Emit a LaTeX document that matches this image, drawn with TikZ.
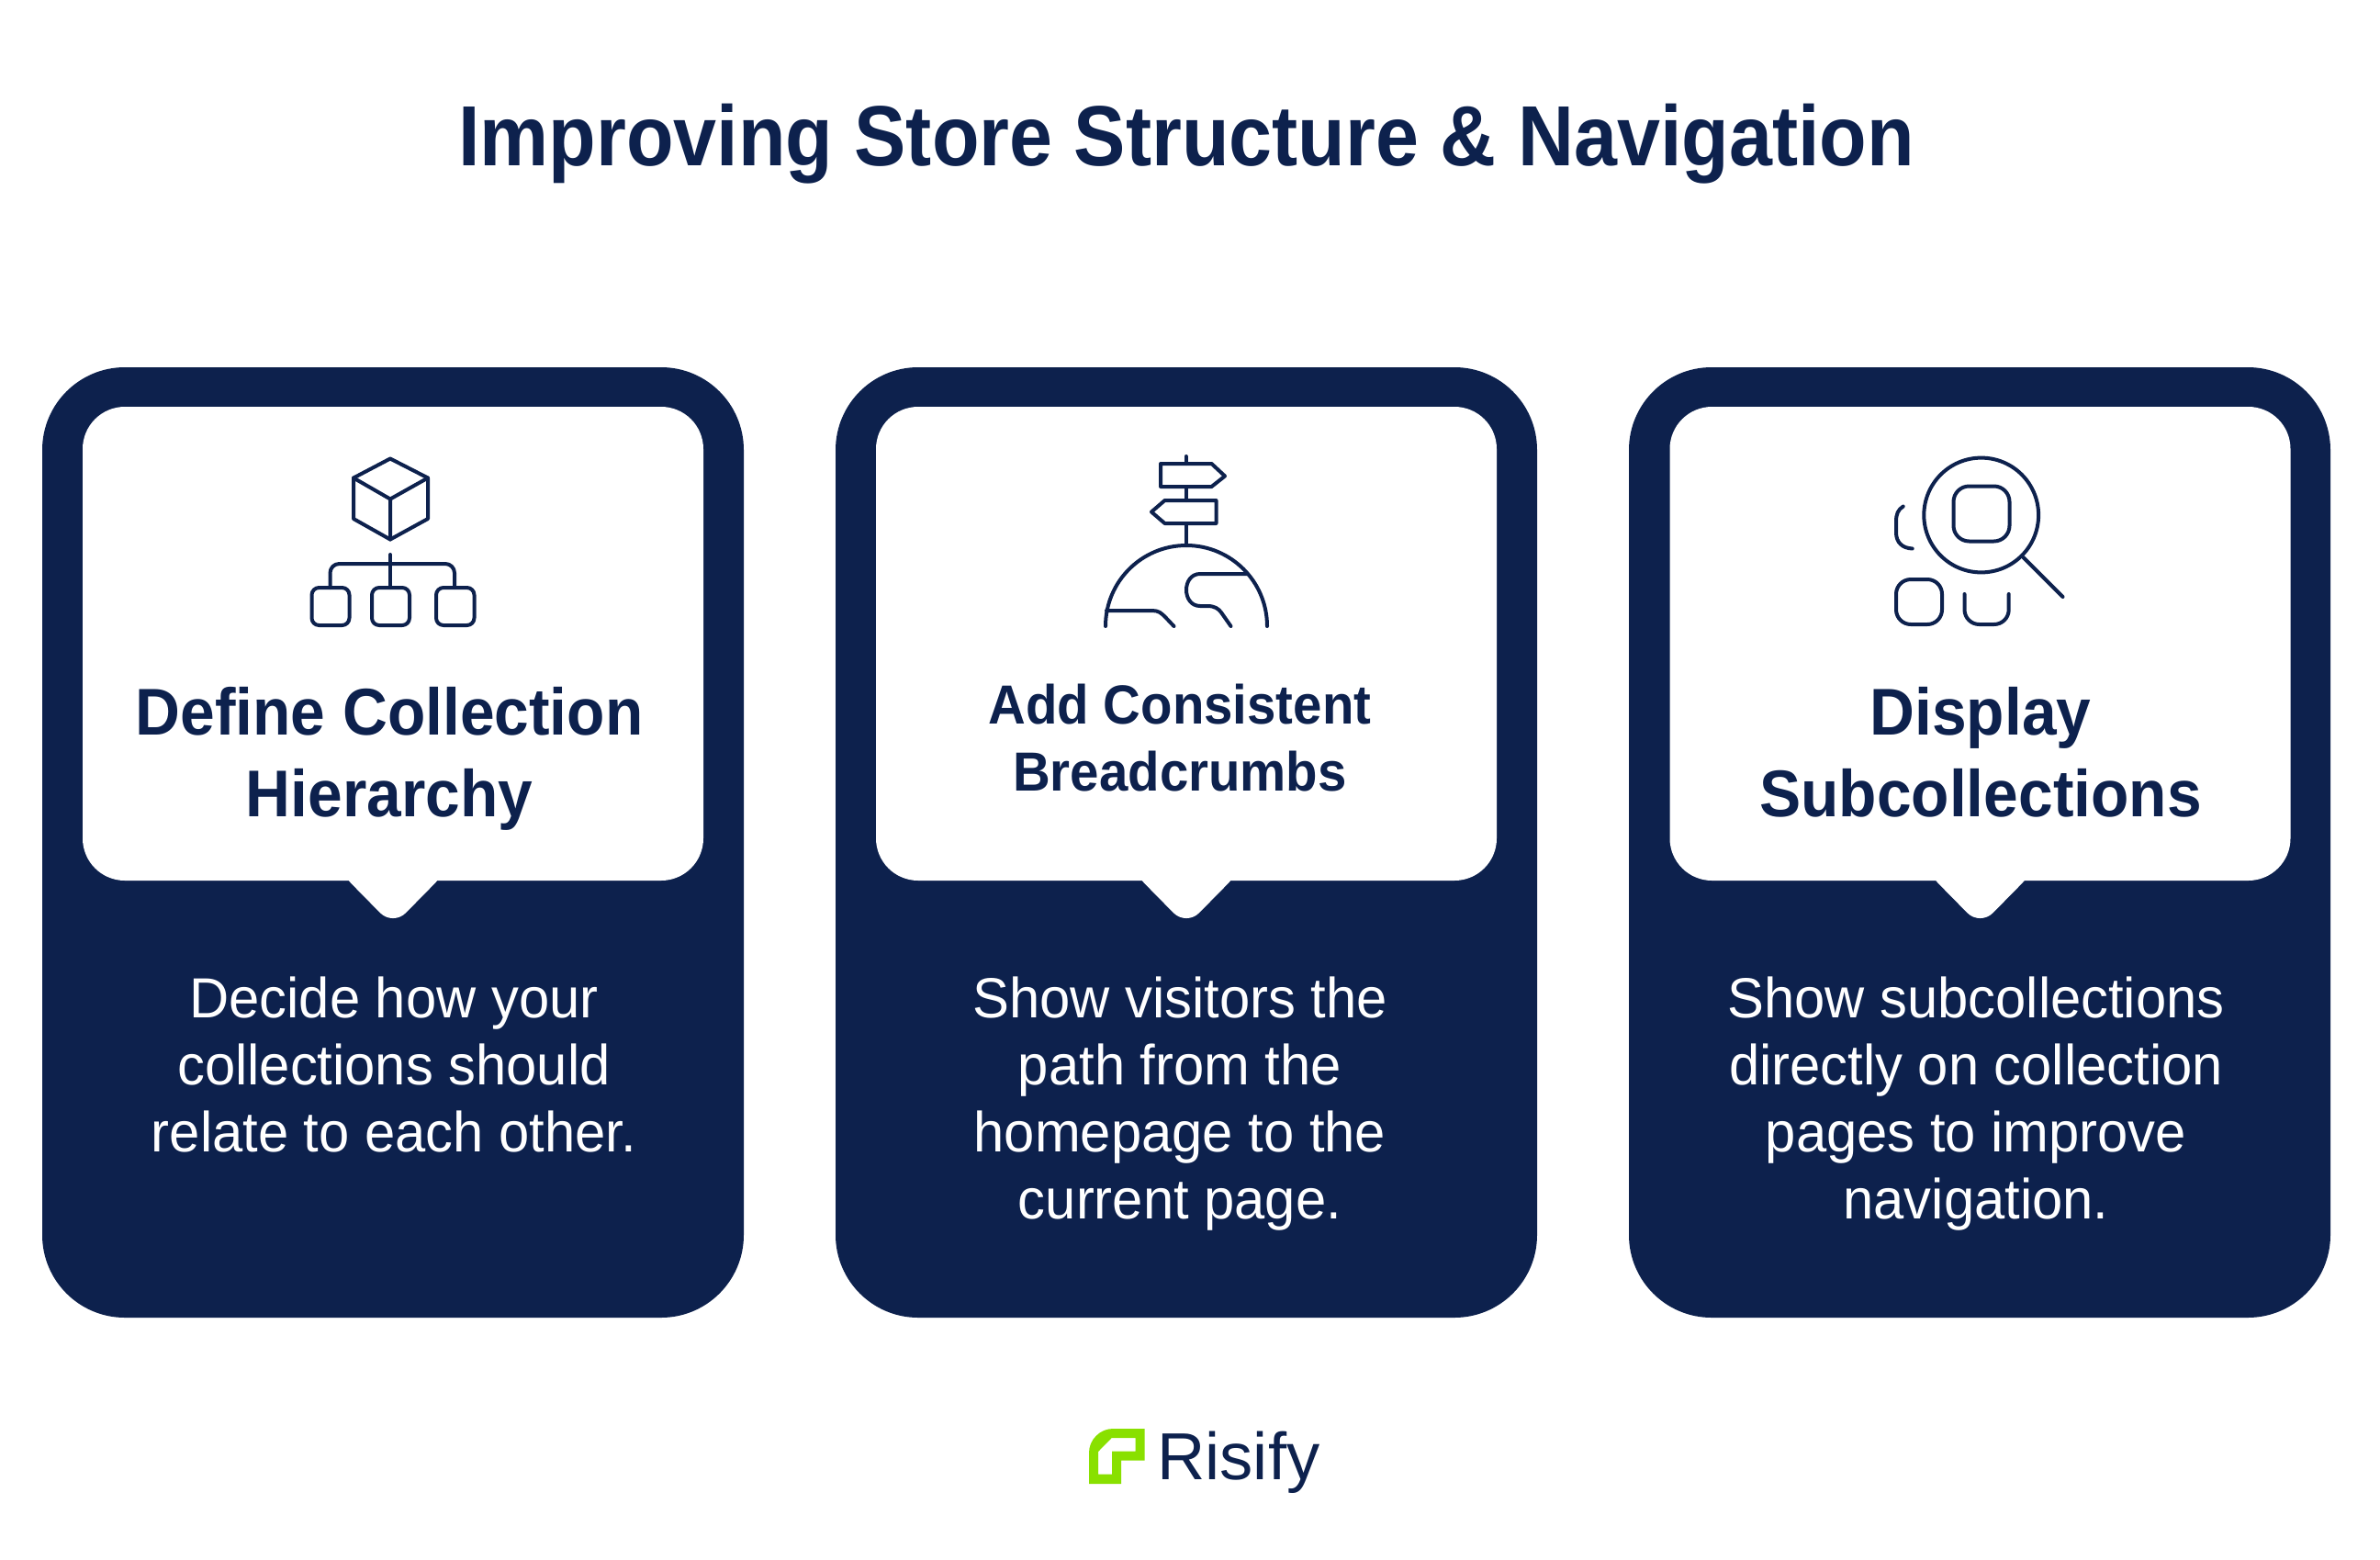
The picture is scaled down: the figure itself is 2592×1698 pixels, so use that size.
\documentclass[tikz,border=0pt]{standalone}
\usepackage{fontspec}
\setmainfont{Liberation Sans}
\newfontfamily\headfont[FakeStretch=0.94]{Liberation Sans}
\newfontfamily\titlefont[FakeStretch=0.908]{Liberation Sans}
\newfontfamily\copyfont[FakeStretch=0.97]{Liberation Sans}
\usepackage{xcolor}
\usetikzlibrary{shapes,arrows,positioning,calc}
\definecolor{risifynavy}{RGB}{13,33,77}
\definecolor{risifygreen}{RGB}{137,224,0}
\tikzset{
  cardbox/.style={rectangle,fill=risifynavy,rounded corners=45pt,minimum width=382pt,minimum height=517.5pt,inner sep=0pt},
  panelbox/.style={rectangle,fill=white,rounded corners=23pt,minimum width=338pt,minimum height=258pt,inner sep=0pt},
  notchtip/.style={fill=white,rounded corners=10pt},
  headtext/.style={text=risifynavy,align=center,inner sep=0pt,font=\headfont\bfseries\fontsize{36}{44.5}\selectfont},
  smallhead/.style={text=risifynavy,align=center,inner sep=0pt,font=\headfont\bfseries\fontsize{30}{36.5}\selectfont},
  bodytext/.style={text=white,align=center,inner sep=0pt,font=\copyfont\fontsize{30.8}{36.5}\selectfont},
  iconline/.style={draw=risifynavy,line width=2pt,line cap=round,line join=round}
}
\begin{document}
\begin{tikzpicture}[x=0.5pt,y=-0.5pt]
        \useasboundingbox (0,0) rectangle (2592,1698);

        % Title
        \node[text=risifynavy,inner sep=0pt,font=\titlefont\bfseries\fontsize{46.5}{56}\selectfont] (title) at (1292,156.5) {Improving Store Structure \& Navigation};

        % Cards
        \node[cardbox] (card1) at (428,917.5) {};
        \node[cardbox] (card2) at (1292,917.5) {};
        \node[cardbox] (card3) at (2156,917.5) {};

        % White panels
        \node[panelbox] (panel1) at (428,701) {};
        \node[panelbox] (panel2) at (1292,701) {};
        \node[panelbox] (panel3) at (2156.5,701) {};

        % Panel tips
        \fill[notchtip] (panel1.south) ++(-60,-12) -- ++(60,61) -- ++(60,-61) -- cycle;
        \fill[notchtip] (panel2.south) ++(-60,-12) -- ++(60,61) -- ++(60,-61) -- cycle;
        \fill[notchtip] (panel3.south) ++(-60,-12) -- ++(60,61) -- ++(60,-61) -- cycle;

        % Card headings
        \node[headtext] (head1) at (424,826) {Define Collection\\Hierarchy};
        \node[smallhead] (head2) at (1285,804) {Add Consistent\\Breadcrumbs};
        \node[headtext] (head3) at (2157,819.5) {Display\\Subcollections};

        % Card texts
        \node[bodytext] (body1) at (429,1159) {Decide how your\\collections should\\relate to each other.};
        \node[bodytext] (body2) at (1285,1202) {Show visitors the\\path from the\\homepage to the\\current page.};
        \node[bodytext] (body3) at (2152,1202) {Show subcollections\\directly on collection\\pages to improve\\navigation.};

        % Icon: cube over tree
        \draw[iconline] (425,499.5) -- (466,520.5) -- (466,565) -- (425,587.5) -- (385,565) -- (385,520.5) -- cycle;
        \draw[iconline] (385,520.5) -- (425,543.5) -- (466,520.5) (425,543.5) -- (425,587.5);
        \draw[iconline] (425,604) -- (425,640);
        \draw[iconline,rounded corners=5pt] (359.5,640) -- (359.5,614) -- (495,614) -- (495,640);
        \draw[iconline,rounded corners=4pt] (339.5,640) rectangle (380.5,681);
        \draw[iconline,rounded corners=4pt] (405,640) rectangle (446,681);
        \draw[iconline,rounded corners=4pt] (475,640) rectangle (516.5,681);

        % Icon: signpost on globe
        \draw[iconline] (1291.7,497) -- (1291.7,505);
        \draw[iconline] (1264,505) -- (1319.5,505) -- (1334,518.5) -- (1319.5,530) -- (1264,530) -- cycle;
        \draw[iconline] (1291.7,530) -- (1291.7,545);
        \draw[iconline] (1324.5,545) -- (1268.5,545) -- (1254,557.5) -- (1268.5,570) -- (1324.5,570) -- cycle;
        \draw[iconline] (1291.7,570) -- (1291.7,594);
        \draw[iconline] (1204,682) arc[start angle=180,end angle=0,radius=44pt];
        \draw[iconline] (1205,665) -- (1255,665) .. controls (1262,665) and (1265,668) .. (1269,672) -- (1278.5,682);
        \draw[iconline] (1358.5,625) -- (1307,625) .. controls (1287,625) and (1287,660) .. (1307,660) -- (1315,660) .. controls (1323,660) and (1327,663) .. (1330,667) -- (1340.5,682);

        % Icon: magnifier over squares
        \draw[iconline] (2157.7,561) circle[radius=31.2pt];
        \draw[iconline,rounded corners=8.5pt] (2127.5,529.5) rectangle (2188.5,589.5);
        \draw[iconline] (2203.5,607) -- (2246.5,650);
        \draw[iconline] (2072.7,551.5) .. controls (2067,555) and (2065,560) .. (2065,568) -- (2065,580) .. controls (2065,591) and (2072,597) .. (2082.7,597.5);
        \draw[iconline,rounded corners=8pt] (2065,631) rectangle (2115,680);
        \draw[iconline,rounded corners=8pt] (2139.5,647) -- (2139.5,680) -- (2187.7,680) -- (2187.7,647);

        % Logo
        \fill[risifygreen,even odd rule] (1186,1616) -- (1186,1582) .. controls (1186,1568) and (1198,1556) .. (1212,1556) -- (1246.7,1556) -- (1246.7,1590.7) -- (1221,1590.7) -- (1221,1616) -- cycle
            (1196,1605.7) -- (1196,1581) -- (1210.7,1566) -- (1236.7,1566) -- (1236.7,1580.7) -- (1211,1580.7) -- (1211,1605.7) -- cycle;
        \node[text=risifynavy,inner sep=0pt,anchor=base west,font=\fontsize{36.2}{44}\selectfont] (brand) at (1260,1611) {Risify};
    \end{tikzpicture}
\end{document}
